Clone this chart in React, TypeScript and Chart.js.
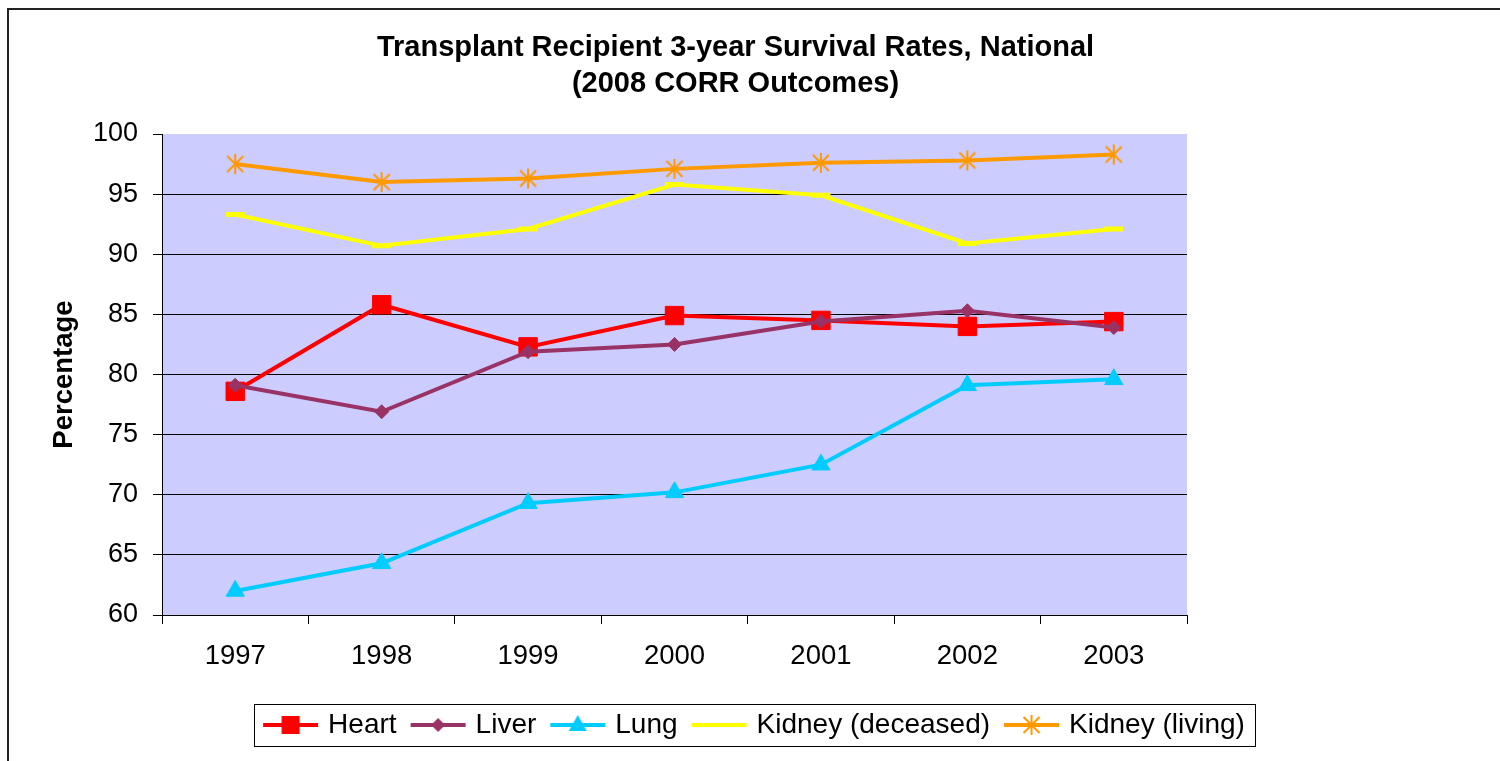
import React, { useEffect, useRef } from 'react';
import { Chart, registerables } from 'chart.js';

Chart.register(...registerables);

// ---- Data ----
const years = ['1997', '1998', '1999', '2000', '2001', '2002', '2003'];
const heart = [78.6, 85.8, 82.3, 84.9, 84.5, 84.0, 84.4];
const liver = [79.1, 76.9, 81.9, 82.5, 84.4, 85.3, 83.9];
const lung = [62.0, 64.3, 69.3, 70.2, 72.5, 79.1, 79.6];
const kidneyDeceased = [93.3, 90.7, 92.1, 95.8, 94.9, 90.9, 92.1];
const kidneyLiving = [97.5, 96.0, 96.3, 97.1, 97.6, 97.8, 98.3];
const seriesNames = ['Heart', 'Liver', 'Lung', 'Kidney (deceased)', 'Kidney (living)'];
const titleLines = ['Transplant Recipient 3-year Survival Rates, National', '(2008 CORR Outcomes)'];
const yTitle = 'Percentage';

const COLORS = ['#FF0000', '#993366', '#00CCFF', '#FFFF00', '#FF9900'];
const FONT = "'Liberation Sans', Arial, sans-serif";

function drawStar(ctx: CanvasRenderingContext2D, cx: number, cy: number, r: number, color: string) {
  ctx.save();
  ctx.strokeStyle = color;
  ctx.lineWidth = 2;
  ctx.beginPath();
  ctx.moveTo(cx, cy - r);
  ctx.lineTo(cx, cy + r);
  ctx.moveTo(cx - r * 0.8, cy - r * 0.8);
  ctx.lineTo(cx + r * 0.8, cy + r * 0.8);
  ctx.moveTo(cx + r * 0.8, cy - r * 0.8);
  ctx.lineTo(cx - r * 0.8, cy + r * 0.8);
  ctx.stroke();
  ctx.restore();
}

function makeStarPoint(color: string) {
  const c = document.createElement('canvas');
  c.width = 22;
  c.height = 22;
  const ctx = c.getContext('2d')!;
  drawStar(ctx, 11, 11, 10, color);
  return c;
}

function makeLegendIcon(idx: number) {
  const w = 57, h = 28;
  const c = document.createElement('canvas');
  c.width = w;
  c.height = h;
  const ctx = c.getContext('2d')!;
  const color = COLORS[idx];
  const cx = w / 2, cy = h / 2;
  ctx.strokeStyle = color;
  ctx.lineWidth = 4;
  ctx.beginPath();
  ctx.moveTo(1, cy);
  ctx.lineTo(w - 1, cy);
  ctx.stroke();
  ctx.fillStyle = color;
  if (idx === 0) {
    ctx.fillRect(cx - 9, cy - 9, 18, 18);
  } else if (idx === 1) {
    ctx.beginPath();
    ctx.moveTo(cx, cy - 7);
    ctx.lineTo(cx + 7, cy);
    ctx.lineTo(cx, cy + 7);
    ctx.lineTo(cx - 7, cy);
    ctx.closePath();
    ctx.fill();
  } else if (idx === 2) {
    ctx.beginPath();
    ctx.moveTo(cx, cy - 10);
    ctx.lineTo(cx + 9, cy + 6);
    ctx.lineTo(cx - 9, cy + 6);
    ctx.closePath();
    ctx.fill();
  } else if (idx === 4) {
    drawStar(ctx, cx, cy, 10, color);
  }
  return c;
}

export default function App() {
  const ref = useRef<HTMLCanvasElement | null>(null);

  useEffect(() => {
    if (!ref.current) return;
    const legendIcons = [0, 1, 2, 3, 4].map(makeLegendIcon);
    const starPoint = makeStarPoint(COLORS[4]);

    const bgPlugin = {
      id: 'plotBg',
      beforeDraw(chart: any) {
        const { ctx, chartArea: a } = chart;
        ctx.save();
        ctx.fillStyle = '#CCCCFF';
        ctx.fillRect(a.left, a.top, a.right - a.left, a.bottom - a.top);
        ctx.restore();
      },
    };

    const decoPlugin = {
      id: 'deco',
      afterDraw(chart: any) {
        const { ctx, width, height } = chart;
        ctx.save();
        // outer frame
        ctx.strokeStyle = '#222';
        ctx.lineWidth = 2;
        ctx.strokeRect(1, 1, width + 10, height + 10);
        // title
        ctx.fillStyle = '#000';
        ctx.font = `bold 29px ${FONT}`;
        ctx.textAlign = 'center';
        ctx.textBaseline = 'middle';
        ctx.fillText(titleLines[0], 728.5, 40);
        ctx.fillText(titleLines[1], 728.5, 76);
        // legend frame
        const hb = chart.legend && chart.legend.legendHitBoxes;
        if (hb && hb.length) {
          let l = Infinity, r = -Infinity, cy = 0;
          hb.forEach((b: any) => {
            l = Math.min(l, b.left);
            r = Math.max(r, b.left + b.width);
            cy = b.top + b.height / 2;
          });
          ctx.strokeStyle = '#000';
          ctx.lineWidth = 1;
          ctx.strokeRect(Math.round(l - 13) + 0.5, Math.round(cy - 21) + 0.5, Math.round(r - l + 23), 42);
        }
        ctx.restore();
      },
    };

    const mk = (i: number, data: number[], extra: any) => ({
      label: seriesNames[i],
      data,
      borderColor: COLORS[i],
      backgroundColor: COLORS[i],
      pointBackgroundColor: COLORS[i],
      pointBorderColor: COLORS[i],
      borderWidth: 4,
      tension: 0,
      order: 5 - i,
      ...extra,
    });

    const chart = new Chart(ref.current, {
      type: 'line',
      data: {
        labels: years,
        datasets: [
          mk(0, heart, { pointStyle: 'rect', pointRadius: 13, pointBorderWidth: 1 }),
          mk(1, liver, { pointStyle: 'rectRot', pointRadius: 7, pointBorderWidth: 1 }),
          mk(2, lung, { pointStyle: 'triangle', pointRadius: 10.5, pointBorderWidth: 1 }),
          mk(3, kidneyDeceased, { pointStyle: 'line', pointRadius: 9.5, pointBorderWidth: 5 }),
          mk(4, kidneyLiving, { pointStyle: starPoint, pointRadius: 10 }),
        ],
      },
      options: {
        responsive: false,
        animation: false,
        events: [],
        layout: { padding: { top: 126, left: 5, right: 0, bottom: 12 } },
        font: { family: FONT },
        plugins: {
          title: { display: false },
          tooltip: { enabled: false },
          legend: {
            position: 'bottom',
            labels: {
              usePointStyle: true,
              pointStyleWidth: 47,
              color: '#000',
              padding: 18,
              font: { size: 28, family: FONT },
              sort: (a: any, b: any) => a.datasetIndex - b.datasetIndex,
              generateLabels: (c: any) => {
                const items = (Chart.defaults.plugins.legend.labels as any).generateLabels(c);
                return items.map((it: any) => ({ ...it, pointStyle: legendIcons[it.datasetIndex], lineWidth: 0 }));
              },
            },
          },
        },
        scales: {
          x: {
            offset: true,
            grid: { offset: true, drawOnChartArea: false, tickLength: 9, tickColor: '#000', color: '#000' },
            border: { color: '#000', width: 1 },
            ticks: { color: '#000', font: { size: 27.5, family: FONT }, padding: 16, maxRotation: 0, autoSkip: false },
            afterFit: (s: any) => { s.height = 78; },
          },
          y: {
            min: 60,
            max: 100,
            ticks: { stepSize: 5, color: '#000', font: { size: 27, family: FONT }, padding: 15 },
            grid: {
              color: (c: any) => (c.tick && c.tick.value === 100 ? 'rgba(0,0,0,0)' : '#000'),
              tickColor: '#000',
              tickLength: 9,
              lineWidth: 1,
            },
            border: { color: '#000', width: 1 },
            title: {
              display: true,
              text: yTitle,
              color: '#000',
              font: { size: 27.5, weight: 'bold', family: FONT },
              padding: { top: 36, bottom: 0 },
            },
            afterFit: (s: any) => { s.width = 150; },
          },
          y2: {
            position: 'right',
            display: true,
            grid: { display: false, drawTicks: false },
            ticks: { display: false },
            border: { display: false },
            afterFit: (s: any) => { s.width = 313; },
          },
        },
      } as any,
      plugins: [bgPlugin, decoPlugin],
    });
    return () => chart.destroy();
  }, []);

  return (
    <div style={{ position: 'absolute', left: 7, top: 8 }}>
      <canvas ref={ref} width={1493} height={753} />
    </div>
  );
}
